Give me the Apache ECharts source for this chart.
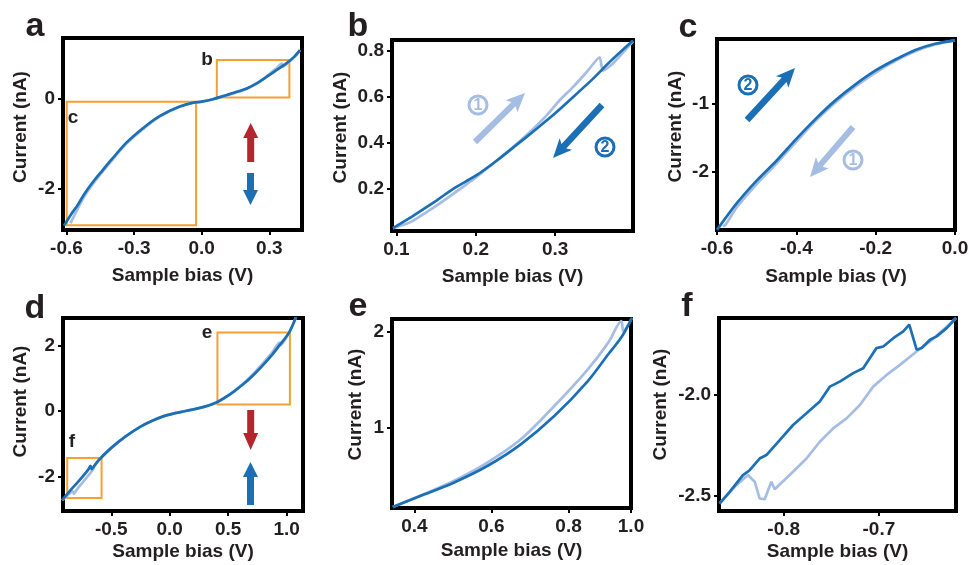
<!DOCTYPE html>
<html>
<head>
<meta charset="UTF-8">
<title>I-V sweeps</title>
<script src="https://cdn.jsdelivr.net/npm/echarts@6/dist/echarts.min.js"></script>
</head>
<body style="margin:0;background:#fff">
<div id="main" style="width:969px;height:565px"></div>
<script>
// values: bias (V) and current (nA) for each sweep
var aDarkV  = [-0.611, -0.58, -0.55, -0.52, -0.481, -0.44, -0.40, -0.333, -0.25, -0.185, -0.10, -0.037, 0.0, 0.05, 0.111, 0.16, 0.2, 0.25, 0.289, 0.33, 0.377, 0.41, 0.436];
var aDarkI  = [-2.83, -2.58, -2.37, -2.12, -1.85, -1.6, -1.36, -0.98, -0.62, -0.39, -0.19, -0.097, -0.075, -0.02, 0.073, 0.15, 0.22, 0.35, 0.48, 0.62, 0.78, 0.92, 1.07];
var aLightV = [-0.582, -0.575, -0.55, -0.52, -0.481, -0.44, -0.40, -0.333, -0.25, -0.185, -0.10, -0.037, 0.0, 0.05, 0.111, 0.16, 0.2, 0.25, 0.289, 0.33, 0.356, 0.361, 0.377, 0.41, 0.436];
var aLightI = [-2.78, -2.70, -2.45, -2.17, -1.89, -1.63, -1.39, -1.0, -0.64, -0.40, -0.19, -0.097, -0.075, -0.02, 0.065, 0.14, 0.21, 0.35, 0.49, 0.66, 0.77, 0.71, 0.77, 0.91, 1.07];

var bDarkV  = [0.0958, 0.1155, 0.122, 0.151, 0.172, 0.201, 0.227, 0.251, 0.277, 0.300, 0.323, 0.348, 0.369, 0.398];
var bDarkI  = [0.028, 0.069, 0.083, 0.149, 0.2, 0.258, 0.323, 0.389, 0.461, 0.527, 0.599, 0.679, 0.752, 0.844];
var bLightV = [0.0958, 0.1176, 0.151, 0.172, 0.201, 0.227, 0.251, 0.2685, 0.2895, 0.306, 0.323, 0.340, 0.356, 0.360, 0.373, 0.398];
var bLightI = [0.028, 0.054, 0.127, 0.178, 0.251, 0.323, 0.393, 0.447, 0.519, 0.585, 0.643, 0.708, 0.771, 0.713, 0.745, 0.84];

var cDarkV  = [0.0, -0.05, -0.1, -0.15, -0.2, -0.25, -0.3, -0.35, -0.4, -0.45, -0.5, -0.55, -0.6];
var cDarkI  = [-0.08, -0.13, -0.22, -0.36, -0.52, -0.72, -0.95, -1.22, -1.52, -1.84, -2.13, -2.46, -2.85];
var cLightV = [0.0, -0.05, -0.1, -0.15, -0.2, -0.25, -0.3, -0.35, -0.4, -0.45, -0.5, -0.55, -0.578, -0.585];
var cLightI = [-0.08, -0.14, -0.24, -0.38, -0.55, -0.75, -0.98, -1.25, -1.56, -1.88, -2.18, -2.52, -2.77, -2.80];

var dDarkV  = [-0.92, -0.85, -0.777, -0.70, -0.677, -0.668, -0.64, -0.606, -0.5, -0.377, -0.25, -0.149, -0.05, 0.022, 0.1, 0.194, 0.3, 0.394, 0.46, 0.537, 0.62, 0.708, 0.79, 0.879, 0.94, 1.022, 1.08];
var dDarkI  = [-2.72, -2.42, -2.13, -1.80, -1.67, -1.77, -1.64, -1.49, -1.12, -0.77, -0.47, -0.29, -0.15, -0.08, -0.02, 0.05, 0.14, 0.26, 0.39, 0.57, 0.8, 1.08, 1.38, 1.74, 2.02, 2.41, 2.87];
var dLightV = [-0.92, -0.86, -0.83, -0.82, -0.80, -0.75, -0.70, -0.66, -0.64, -0.606, -0.5, -0.377, -0.25, -0.149, -0.05, 0.022, 0.1, 0.194, 0.3, 0.394, 0.46, 0.537, 0.62, 0.708, 0.79, 0.879, 0.94, 0.947, 1.022, 1.08];
var dLightI = [-2.72, -2.52, -2.45, -2.52, -2.42, -2.20, -1.98, -1.80, -1.66, -1.49, -1.12, -0.77, -0.47, -0.29, -0.15, -0.08, -0.02, 0.05, 0.14, 0.26, 0.39, 0.58, 0.82, 1.12, 1.44, 1.81, 2.10, 2.02, 2.41, 2.87];

var eDarkV  = [0.344, 0.415, 0.502, 0.589, 0.676, 0.763, 0.85, 0.903, 0.937, 0.965];
var eDarkI  = [0.173, 0.288, 0.427, 0.60, 0.826, 1.12, 1.485, 1.764, 1.94, 2.146];
var eLightV = [0.344, 0.415, 0.502, 0.589, 0.676, 0.763, 0.85, 0.903, 0.937, 0.942, 0.965];
var eLightI = [0.173, 0.29, 0.444, 0.635, 0.878, 1.225, 1.607, 1.885, 2.11, 2.006, 2.146];

var fDarkV  = [-0.8674, -0.8568, -0.8428, -0.8358, -0.8253, -0.8182, -0.8042, -0.7902, -0.7761, -0.7621, -0.7516, -0.7411, -0.7270, -0.7165, -0.7025, -0.6954, -0.6849, -0.6744, -0.6681, -0.6639, -0.6604, -0.6551, -0.6463, -0.6393, -0.6288, -0.6189];
var fDarkI  = [-2.538, -2.480, -2.397, -2.373, -2.315, -2.298, -2.224, -2.149, -2.091, -2.033, -1.959, -1.934, -1.892, -1.868, -1.768, -1.760, -1.719, -1.685, -1.652, -1.719, -1.776, -1.768, -1.727, -1.710, -1.669, -1.619];
var fLightV = [-0.8674, -0.8498, -0.8375, -0.8305, -0.8253, -0.8200, -0.8130, -0.8095, -0.7937, -0.7761, -0.7621, -0.7481, -0.7340, -0.7200, -0.7060, -0.6919, -0.6779, -0.6604, -0.6463, -0.6323, -0.6189];
var fLightI = [-2.538, -2.447, -2.397, -2.430, -2.513, -2.517, -2.430, -2.467, -2.397, -2.315, -2.232, -2.166, -2.116, -2.050, -1.959, -1.901, -1.851, -1.785, -1.735, -1.677, -1.619];

// tick values
var aTicksX = [-0.6, -0.3, 0, 0.3],  aTicksY = [-2, 0];
var bTicksX = [0.1, 0.2, 0.3],        bTicksY = [0.2, 0.4, 0.6, 0.8];
var cTicksX = [-0.6, -0.4, -0.2, 0],  cTicksY = [-2, -1];
var dTicksX = [-0.5, 0, 0.5, 1.0],    dTicksY = [-2, 0, 2];
var eTicksX = [0.4, 0.6, 0.8, 0.962], eTicksY = [1, 2];
var fTicksX = [-0.8, -0.7],           fTicksY = [-2.5, -2.0];

// zoom boxes drawn on the overview panels [corner1, corner2]
var aBoxB = [[0.067, 0.02], [0.389, 0.85]];
var aBoxC = [[-0.599, -0.075], [-0.025, -2.82]];
var dBoxE = [[0.408, 0.206], [1.028, 2.41]];
var dBoxF = [[-0.877, -1.43], [-0.583, -2.65]];

var INK = '#231f20', DARK = '#1b6fb5', LIGHT = '#a6bde3', ORANGE = '#f6a033', RED = '#b3262d';
var FONT = '"Liberation Sans", Arial, Helvetica, sans-serif';

function zip(v, i) {
    return v.map(function (x, k) { return [x, i[k]]; });
}
function fmt(d) {
    return function (v) { return v.toFixed(d); };
}

var panels = [
    {grid: [63, 38, 239, 192],  x: [-0.6155, 0.445], y: [-2.927, 1.34],  xt: aTicksX, yt: aTicksY, xd: 1, yd: 0,
     light: zip(aLightV, aLightI), dark: zip(aDarkV, aDarkI), boxes: [aBoxB, aBoxC], xGap: 36, yGap: 33, yUp: 7, smooth: 0.3},
    {grid: [392, 40, 241, 191], x: [0.0945, 0.398],  y: [0.0154, 0.846], xt: bTicksX, yt: bTicksY, xd: 1, yd: 1,
     light: zip(bLightV, bLightI), dark: zip(bDarkV, bDarkI), boxes: [], xGap: 36, yGap: 42, yUp: 8, smooth: 0.2},
    {grid: [717, 39, 238, 191], x: [-0.6, 0.0],      y: [-2.852, -0.06], xt: cTicksX, yt: cTicksY, xd: 1, yd: 0,
     light: zip(cLightV, cLightI), dark: zip(cDarkV, cDarkI), boxes: [], xGap: 37, yGap: 32, yUp: 8, smooth: 0.3},
    {grid: [63, 318, 240, 193], x: [-0.913, 1.14],   y: [-3.05, 2.85],   xt: dTicksX, yt: dTicksY, xd: 1, yd: 0,
     light: zip(dLightV, dLightI), dark: zip(dDarkV, dDarkI), boxes: [dBoxE, dBoxF], xGap: 31, yGap: 33, yUp: 13, smooth: 0.3},
    {grid: [392, 319, 239, 189], x: [0.342, 0.962],  y: [0.163, 2.131],  xt: eTicksX, yt: eTicksY, xd: 1, yd: 0,
     light: zip(eLightV, eLightI), dark: zip(eDarkV, eDarkI), boxes: [], xGap: 33, yGap: 27, yUp: 9, smooth: 0.3},
    {grid: [719, 318, 237, 193], x: [-0.868, -0.619], y: [-2.575, -1.619], xt: fTicksX, yt: fTicksY, xd: 1, yd: 1,
     light: zip(fLightV, fLightI), dark: zip(fDarkV, fDarkI), boxes: [], xGap: 31, yGap: 49, yUp: 10, smooth: false}
];

var option = {animation: false, backgroundColor: '#fff', grid: [], xAxis: [], yAxis: [], series: [], graphic: []};

panels.forEach(function (p, i) {
    option.grid.push({left: p.grid[0], top: p.grid[1], width: p.grid[2], height: p.grid[3],
        show: true, borderColor: '#000', borderWidth: 4, backgroundColor: 'transparent',
        containLabel: false, outerBoundsMode: 'none'});
    var labelStyle = {fontFamily: FONT, fontWeight: 'bold', fontSize: 19, color: INK};
    var nameStyle = {fontFamily: FONT, fontWeight: 'bold', fontSize: 19, color: INK};
    option.xAxis.push({type: 'value', gridIndex: i, min: p.x[0], max: p.x[1], position: 'bottom',
        name: 'Sample bias (V)', nameLocation: 'middle', nameGap: p.xGap, nameTextStyle: nameStyle,
        axisLine: {show: false, onZero: false}, splitLine: {show: false},
        axisTick: {show: true, length: 5, lineStyle: {color: '#000', width: 2}, customValues: p.xt},
        axisLabel: Object.assign({customValues: p.xt, formatter: fmt(p.xd), margin: 9}, labelStyle)});
    option.yAxis.push({type: 'value', gridIndex: i, min: p.y[0], max: p.y[1], position: 'left',
        name: 'Current (nA)', nameLocation: 'middle', nameGap: p.yGap,
        nameTextStyle: Object.assign({padding: [0, 0, 0, 2 * p.yUp]}, nameStyle),
        axisLine: {show: false, onZero: false}, splitLine: {show: false},
        axisTick: {show: true, length: 5, lineStyle: {color: '#000', width: 2}, customValues: p.yt},
        axisLabel: Object.assign({customValues: p.yt, formatter: fmt(p.yd), margin: 8}, labelStyle)});
    option.series.push({type: 'line', xAxisIndex: i, yAxisIndex: i, data: p.light, showSymbol: false,
        smooth: p.smooth, silent: true, lineStyle: {color: LIGHT, width: 2.7}, z: 2});
    option.series.push({type: 'line', xAxisIndex: i, yAxisIndex: i, data: p.dark, showSymbol: false,
        smooth: p.smooth, silent: true, lineStyle: {color: DARK, width: 2.7}, z: 3,
        markArea: {silent: true, itemStyle: {color: 'rgba(0,0,0,0)', borderColor: ORANGE, borderWidth: 2},
            data: p.boxes.map(function (b) { return [{coord: b[0]}, {coord: b[1]}]; })}});
});

function text(str, x, y, size, color) {
    return {type: 'text', x: x, y: y, silent: true, z: 10,
        style: {text: str, fill: color, align: 'center', verticalAlign: 'middle',
            font: 'bold ' + size + 'px ' + FONT}};
}
// circled step number: ring plus bold digit
function step(n, x, y, color) {
    return [
        {type: 'circle', silent: true, z: 10, shape: {cx: x, cy: y, r: 9},
            style: {fill: '#fff', stroke: color, lineWidth: 3}},
        text(String(n), x, y + 0.5, 16, color)
    ];
}
function arrow(x1, y1, x2, y2, sw, hw, hl, notch, color) {
    var dx = x2 - x1, dy = y2 - y1, L = Math.sqrt(dx * dx + dy * dy);
    var ux = dx / L, uy = dy / L, nx = -uy, ny = ux;
    var bx = x2 - ux * hl, by = y2 - uy * hl;
    var pts = [
        [x1 + nx * sw / 2, y1 + ny * sw / 2],
        [bx + nx * sw / 2, by + ny * sw / 2],
        [bx - ux * notch + nx * hw / 2, by - uy * notch + ny * hw / 2],
        [x2, y2],
        [bx - ux * notch - nx * hw / 2, by - uy * notch - ny * hw / 2],
        [bx - nx * sw / 2, by - ny * sw / 2],
        [x1 - nx * sw / 2, y1 - ny * sw / 2]
    ];
    return {type: 'polygon', silent: true, z: 10, shape: {points: pts}, style: {fill: color}};
}

option.graphic = [
    text('a', 35, 27, 34, INK), text('b', 358, 27, 34, INK), text('c', 688, 28, 34, INK),
    text('d', 35, 309, 34, INK), text('e', 358, 307, 34, INK), text('f', 687, 307, 34, INK),
    text('b', 207, 60, 19, INK), text('c', 73, 118, 19, INK),
    text('e', 207, 333, 19, INK), text('f', 72, 442, 19, INK),
    arrow(250.7, 162, 250.7, 123, 7, 15, 15, 0, RED),
    arrow(250.5, 173, 250.5, 205, 7, 15, 15, 0, DARK),
    arrow(250.7, 410, 250.7, 450, 7, 15, 17, 0, RED),
    arrow(250.5, 505, 250.5, 462, 7, 15, 15, 0, DARK),
    arrow(475, 142, 525, 93, 6, 17, 16, 3, LIGHT),
    arrow(602, 105, 553, 158, 6.5, 17, 16, 3, DARK),
    arrow(747, 120, 795, 68, 6.5, 17, 16, 3, DARK),
    arrow(853, 127, 810, 177, 6, 17, 16, 3, LIGHT)
].concat(step(1, 478, 105, LIGHT), step(2, 605, 147, DARK),
         step(2, 748, 85, DARK), step(1, 853, 160, LIGHT));

var chart = echarts.init(document.getElementById('main'));
chart.setOption(option);
</script>
</body>
</html>
